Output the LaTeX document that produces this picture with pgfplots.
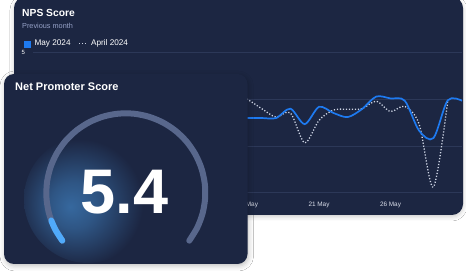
\documentclass[border=0pt]{standalone}
\usepackage{pgfplots}
\pgfplotsset{compat=1.18}
\usepgfplotslibrary{polar}
\usetikzlibrary{shadows.blur}
\usepackage{fontspec}
\setmainfont{Liberation Sans}
\definecolor{card}{RGB}{28,38,66}
\definecolor{gridc}{RGB}{44,56,88}
\definecolor{mayblue}{RGB}{30,122,240}
\definecolor{aprilc}{RGB}{205,212,228}
\definecolor{subtext}{RGB}{150,162,200}
\definecolor{track}{RGB}{88,103,140}
\definecolor{gaugeblue}{RGB}{80,170,250}
\definecolor{glowc}{RGB}{54,104,158}
\definecolor{ticklab}{RGB}{218,222,234}
\pgfdeclareradialshading{glow}{\pgfpoint{-7bp}{-3bp}}{color(0bp)=(glowc); color(9bp)=(glowc!72!card); color(25bp)=(card); color(50bp)=(card)}

\begin{document}
\begin{tikzpicture}
\useasboundingbox (0pt,0pt) rectangle (466pt,273pt);
\clip (0pt,0pt) rectangle (466pt,273pt);
\fill[white] (0pt,0pt) rectangle (466pt,273pt);
% back card
\fill[card, rounded corners=11pt, blur shadow={shadow xshift=0pt, shadow yshift=-2pt, shadow blur radius=4pt, shadow opacity=20}] (14pt,58pt) rectangle (463pt,276pt);
\node[anchor=base west, text=white, font=\bfseries\fontsize{10.3}{12}\selectfont, inner sep=0pt] at (22pt,256.3pt) {NPS Score};
\node[anchor=base west, text=subtext, font=\fontsize{7.3}{9}\selectfont, inner sep=0pt] at (22pt,244.7pt) {Previous month};

\begin{axis}[
  at={(33pt,80.3pt)}, anchor=south west,
  scale only axis, width=429pt, height=140pt,
  xmin=1, xmax=31, ymin=2, ymax=5,
  axis line style={draw=none},
  major tick length=0pt,
  xtick={16,21,26},
  xticklabels={16 May,21 May,26 May},
  ytick={2,3,4,5},
  ymajorgrids, grid style={gridc, line width=0.8pt},
  xticklabel style={anchor=center, yshift=-12.3pt, text=ticklab, font=\fontsize{6.4}{7}\selectfont},
  yticklabel style={anchor=center, xshift=-9.7pt, text=white, font=\fontsize{6}{7}\selectfont},
  /pgf/number format/assume math mode=true,
  legend style={at={(rel axis cs:0,1)}, anchor=south west, xshift=-9pt, yshift=3pt,
    draw=none, fill=none, legend columns=2, font=\fontsize{8.2}{9}\selectfont, text=white,
    inner sep=0pt,
    /tikz/every odd column/.append style={column sep=2pt},
    /tikz/every even column/.append style={column sep=6pt}},
]
\addlegendimage{legend image code/.code={\fill[mayblue] (0pt,-3pt) rectangle (6pt,3pt);}}
\addlegendentry{May 2024}
\addlegendimage{legend image code/.code={\draw[aprilc, line width=1pt, dash pattern=on 1pt off 2pt] (0pt,0pt) -- (7.5pt,0pt);}}
\addlegendentry{April 2024}
\addplot[aprilc, line width=1.3pt, dash pattern=on 1.2pt off 1.8pt, smooth, forget plot] coordinates {
(15,4.15)(16,4.00)(17,3.80)(18,3.62)(19,3.71)(20,3.07)(21,3.55)(22,3.77)(23,3.79)(24,3.80)(25,3.96)(26,3.74)(27,3.85)(28,3.47)(29,2.12)(30,3.96)};
\addplot[mayblue, line width=1.7pt, smooth, forget plot] coordinates {
(15,3.60)(16,3.60)(17,3.60)(18,3.60)(19,3.80)(20,3.47)(21,3.84)(22,3.71)(23,3.62)(24,3.79)(25,4.06)(26,4.02)(27,3.97)(28,3.33)(29,3.17)(30,3.98)(31,3.97)};
\end{axis}

% front card
\fill[card, rounded corners=10pt, blur shadow={shadow xshift=1pt, shadow yshift=-2pt, shadow blur radius=5pt, shadow opacity=25}] (4pt,9pt) rectangle (247.5pt,199pt);
\begin{scope}
\clip[rounded corners=10pt] (4pt,9pt) rectangle (247.5pt,199pt);
\shade[shading=glow] (88pt,74pt) circle (64pt);
\end{scope}
\node[anchor=base west, text=white, font=\bfseries\fontsize{11}{13}\selectfont, inner sep=0pt] at (15pt,182.3pt) {Net Promoter Score};

\begin{polaraxis}[at={(125.8pt,80.2pt)}, anchor=center, scale only axis, width=159pt, height=159pt,
  xmin=0, xmax=360, ymin=0, ymax=1, hide axis, clip=false]
\addplot[track, line width=6pt, line cap=round, smooth, no markers] coordinates {
(-37,1)(-26,1)(-15,1)(-4,1)(7,1)(18,1)(29,1)(40,1)(51,1)(62,1)(73,1)(84,1)(95,1)(106,1)(117,1)(128,1)(139,1)(150,1)(161,1)(172,1)(183,1)(194,1)(205,1)(217,1)};
\addplot[gaugeblue, line width=6pt, line cap=round, smooth, no markers] coordinates {
(200.4,1)(208,1)(217,1)};
\end{polaraxis}

\node[anchor=base, text=white, font=\bfseries\fontsize{63}{70}\selectfont, inner sep=0pt] at (124.7pt,59.7pt) {5.4};
\end{tikzpicture}
\end{document}
